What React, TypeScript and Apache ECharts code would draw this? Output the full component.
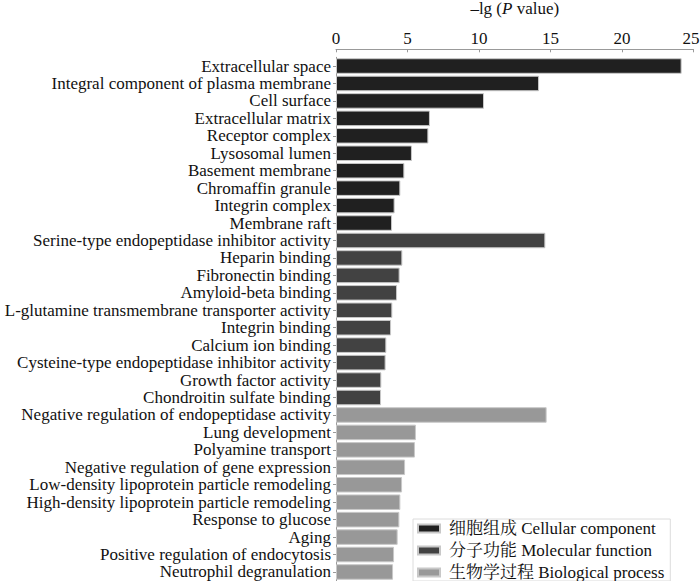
import React, { useEffect, useRef } from "react";
import * as echarts from "echarts";

const ccNames = [
  "Extracellular space",
  "Integral component of plasma membrane",
  "Cell surface",
  "Extracellular matrix",
  "Receptor complex",
  "Lysosomal lumen",
  "Basement membrane",
  "Chromaffin granule",
  "Integrin complex",
  "Membrane raft",
];
const ccValues = [24.17, 14.2, 10.35, 6.57, 6.46, 5.31, 4.78, 4.5, 4.1, 3.92];

const mfNames = [
  "Serine-type endopeptidase inhibitor activity",
  "Heparin binding",
  "Fibronectin binding",
  "Amyloid-beta binding",
  "L-glutamine transmembrane transporter activity",
  "Integrin binding",
  "Calcium ion binding",
  "Cysteine-type endopeptidase inhibitor activity",
  "Growth factor activity",
  "Chondroitin sulfate binding",
];
const mfValues = [14.64, 4.64, 4.45, 4.27, 3.94, 3.85, 3.52, 3.47, 3.17, 3.15];

const bpNames = [
  "Negative regulation of endopeptidase activity",
  "Lung development",
  "Polyamine transport",
  "Negative regulation of gene expression",
  "Low-density lipoprotein particle remodeling",
  "High-density lipoprotein particle remodeling",
  "Response to glucose",
  "Aging",
  "Positive regulation of endocytosis",
  "Neutrophil degranulation",
];
const bpValues = [14.73, 5.59, 5.52, 4.83, 4.62, 4.5, 4.43, 4.31, 4.06, 3.99];

const groupNames = [
  "细胞组成 Cellular component",
  "分子功能 Molecular function",
  "生物学过程 Biological process",
];
const groupColors = ["#202020", "#424242", "#989898"];

const xTicks = { min: 0, max: 25, interval: 5 };

const FONT = "'Liberation Serif', 'Times New Roman', 'Noto Serif CJK SC', 'Noto Sans CJK SC', serif";

export default function App() {
  const ref = useRef<HTMLDivElement>(null);
  useEffect(() => {
    if (!ref.current) return;
    const chart = echarts.init(ref.current, null, { renderer: "svg" });
    const categories = [...ccNames, ...mfNames, ...bpNames];
    const groups = [
      { names: ccNames, values: ccValues },
      { names: mfNames, values: mfValues },
      { names: bpNames, values: bpValues },
    ];
    const series = groups.map((g, gi) => ({
      name: groupNames[gi],
      type: "bar",
      stack: "all",
      barCategoryGap: "11%",
      itemStyle: { color: groupColors[gi], borderColor: "#c8c8c8", borderWidth: 1 },
      data: categories.map((c) => {
        const idx = g.names.indexOf(c);
        return idx >= 0 ? g.values[idx] : null;
      }),
    }));
    chart.setOption({
      animation: false,
      backgroundColor: "#ffffff",
      textStyle: { fontFamily: FONT },
      grid: {
        left: 336,
        right: 6.5,
        top: 57.3,
        bottom: 0.3,
        containLabel: false,
        outerBoundsMode: "none",
      },
      legend: {
        orient: "vertical",
        left: 413,
        top: 519,
        height: 80,
        itemWidth: 22,
        itemHeight: 8,
        itemGap: 5,
        padding: [1, 6, 0, 4],
        backgroundColor: "#ffffff",
        borderColor: "#dcdcdc",
        borderWidth: 1,
        icon: "rect",
        textStyle: { fontFamily: FONT, fontSize: 17, color: "#111", padding: [0, 0, 0, 4] },
        data: groupNames,
      },
      xAxis: {
        type: "value",
        position: "top",
        offset: 8,
        min: xTicks.min,
        max: xTicks.max,
        interval: xTicks.interval,
        name: "–lg ({i|P} value)",
        nameLocation: "middle",
        nameGap: 32,
        nameTextStyle: {
          fontFamily: FONT,
          fontSize: 17,
          color: "#111",
          rich: { i: { fontStyle: "italic", fontFamily: FONT, fontSize: 17, color: "#111" } },
        },
        axisLine: { show: true, lineStyle: { color: "#999", width: 1 } },
        axisTick: { show: true, inside: true, length: 3, lineStyle: { color: "#999" } },
        axisLabel: {
          fontFamily: FONT,
          fontSize: 17,
          color: "#111",
          margin: 2,
          formatter: (v: number) => (v === xTicks.max ? "{r|" + v + "}" : String(v)),
          rich: { r: { fontFamily: FONT, fontSize: 17, color: "#111", padding: [0, 5, 0, 0] } },
        },
        splitLine: { show: false },
      },
      yAxis: {
        type: "category",
        inverse: true,
        data: categories,
        axisLine: { show: true, lineStyle: { color: "#999" } },
        axisTick: { show: true, length: 3, alignWithLabel: true, lineStyle: { color: "#999" } },
        axisLabel: { interval: 0, fontFamily: FONT, fontSize: 17, color: "#111", margin: 5 },
      },
      series,
    });
    return () => chart.dispose();
  }, []);
  return (
    <div
      ref={ref}
      style={{ position: "absolute", left: 0, top: 0, width: 700, height: 581 }}
    />
  );
}
